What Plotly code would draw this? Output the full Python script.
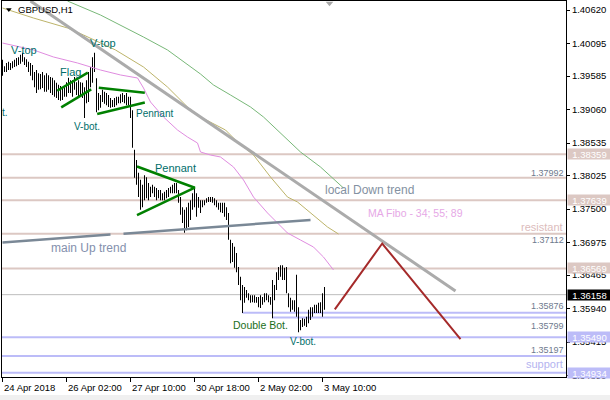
import numpy as np
import plotly.graph_objects as go

# ---------------- data ----------------
symbol_title = "GBPUSD,H1"
x_tick_bars = [0, 32, 64, 96, 128, 160]
x_tick_labels = ["24 Apr 2018", "26 Apr 02:00", "27 Apr 10:00", "30 Apr 18:00", "2 May 02:00", "3 May 10:00"]
y_tick_labels = ["1.40620", "1.40095", "1.39585", "1.39060", "1.38535", "1.38025",
                 "1.37500", "1.36975", "1.36465", "1.35940", "1.35415", "1.34890"]

highs = [1.3984, 1.3974, 1.3979, 1.3981, 1.3979, 1.3982, 1.3984, 1.3987, 1.3988, 1.3992,
         1.3995, 1.3988, 1.3985, 1.3981, 1.3979, 1.3976, 1.3965, 1.3968, 1.3963, 1.3962,
         1.3965, 1.3960, 1.3963, 1.3960, 1.3957, 1.3956, 1.3952, 1.3948, 1.3945, 1.3943,
         1.3940, 1.3941, 1.3949, 1.3956, 1.3952, 1.3952, 1.3957, 1.3949, 1.3952, 1.3949,
         1.3948, 1.3941, 1.3952, 1.3965, 1.3973, 1.3988, 1.3995, 1.3955, 1.3932, 1.3929,
         1.3937, 1.3934, 1.3932, 1.3929, 1.3924, 1.3921, 1.3924, 1.3926, 1.3926, 1.3930,
         1.3932, 1.3929, 1.3932, 1.3926, 1.3926, 1.3905, 1.3843, 1.3827, 1.3807, 1.3796,
         1.3788, 1.3803, 1.3800, 1.3791, 1.3785, 1.3788, 1.3785, 1.3783, 1.3780, 1.3780,
         1.3775, 1.3777, 1.3780, 1.3783, 1.3785, 1.3788, 1.3791, 1.3791, 1.3780, 1.3769,
         1.3753, 1.3749, 1.3753, 1.3760, 1.3764, 1.3775, 1.3785, 1.3775, 1.3769, 1.3764,
         1.3764, 1.3764, 1.3767, 1.3769, 1.3769, 1.3769, 1.3767, 1.3764, 1.3760, 1.3760,
         1.3760, 1.3760, 1.3753, 1.3744, 1.3702, 1.3697, 1.3691, 1.3681, 1.3659, 1.3644,
         1.3631, 1.3628, 1.3623, 1.3618, 1.3615, 1.3615, 1.3615, 1.3612, 1.3612, 1.3615,
         1.3612, 1.3618, 1.3618, 1.3615, 1.3612, 1.3639, 1.3631, 1.3651, 1.3659, 1.3662,
         1.3662, 1.3658, 1.3659, 1.3618, 1.3611, 1.3607, 1.3607, 1.3647, 1.3596, 1.3576,
         1.3579, 1.3578, 1.3581, 1.3592, 1.3596, 1.3596, 1.3600, 1.3600, 1.3603, 1.3604,
         1.3618, 1.3628]

lows = [1.3959, 1.3965, 1.3965, 1.3968, 1.3968, 1.3971, 1.3973, 1.3974, 1.3976, 1.3978,
        1.3981, 1.3976, 1.3973, 1.3965, 1.3959, 1.3952, 1.3941, 1.3932, 1.3937, 1.3938,
        1.3940, 1.3934, 1.3934, 1.3937, 1.3932, 1.3929, 1.3926, 1.3924, 1.3921, 1.3920,
        1.3921, 1.3926, 1.3926, 1.3932, 1.3932, 1.3926, 1.3937, 1.3929, 1.3926, 1.3926,
        1.3924, 1.3893, 1.3916, 1.3918, 1.3941, 1.3948, 1.3965, 1.3902, 1.3905, 1.3909,
        1.3918, 1.3915, 1.3913, 1.3910, 1.3909, 1.3910, 1.3910, 1.3913, 1.3916, 1.3916,
        1.3918, 1.3916, 1.3913, 1.3913, 1.3893, 1.3846, 1.3799, 1.3788, 1.3769, 1.3749,
        1.3753, 1.3764, 1.3767, 1.3764, 1.3769, 1.3775, 1.3769, 1.3764, 1.3767, 1.3764,
        1.3764, 1.3764, 1.3767, 1.3769, 1.3775, 1.3775, 1.3775, 1.3775, 1.3760, 1.3741,
        1.3728, 1.3713, 1.3717, 1.3722, 1.3733, 1.3749, 1.3753, 1.3738, 1.3752, 1.3744,
        1.3753, 1.3756, 1.3760, 1.3761, 1.3761, 1.3760, 1.3756, 1.3753, 1.3749, 1.3745,
        1.3744, 1.3738, 1.3733, 1.3702, 1.3665, 1.3667, 1.3658, 1.3651, 1.3631, 1.3607,
        1.3587, 1.3603, 1.3611, 1.3607, 1.3603, 1.3604, 1.3603, 1.3603, 1.3596, 1.3595,
        1.3600, 1.3604, 1.3607, 1.3604, 1.3600, 1.3579, 1.3607, 1.3623, 1.3639, 1.3644,
        1.3639, 1.3639, 1.3618, 1.3596, 1.3589, 1.3592, 1.3589, 1.3581, 1.3557, 1.3560,
        1.3565, 1.3567, 1.3565, 1.3571, 1.3576, 1.3581, 1.3587, 1.3587, 1.3587, 1.3587,
        1.3581, 1.3592]

# Moving averages (MA Fibo 34 / 55 / 89), read as vertices
ma34_bars = [0, 15.5, 25.5, 37.5, 49, 59, 67.5, 70.5, 74, 80.5, 87.5, 92.5, 97.5, 99, 104,
             109, 115.5, 120.5, 125.5, 132.5, 137.5, 142.5, 149, 155.5, 160.5, 165.5]
ma34_vals = [1.40104, 1.39995, 1.39885, 1.39791, 1.39681, 1.39603, 1.39556, 1.39399, 1.39179,
             1.38944, 1.38740, 1.38630, 1.38536, 1.38395, 1.38348, 1.38317, 1.38160, 1.37956,
             1.37689, 1.37439, 1.37282, 1.37125, 1.37015, 1.36905, 1.36748, 1.36545]
ma55_bars = [0, 15.5, 32.5, 40.5, 56.5, 70.5, 82.5, 92.5, 99, 111.5, 117.5, 125.5, 134,
             142.5, 147.5, 154, 162.5, 168]
ma55_vals = [1.40653, 1.40496, 1.40340, 1.40230, 1.39995, 1.39728, 1.39414, 1.39101, 1.38944,
             1.38740, 1.38552, 1.38348, 1.38003, 1.37689, 1.37611, 1.37439, 1.37219, 1.37109]
ma89_bars = [32.5, 49, 70.5, 82.5, 99, 105.5, 114, 124, 130.5, 137.5, 149, 159, 170.5]
ma89_vals = [1.40763, 1.40543, 1.40198, 1.39995, 1.39618, 1.39446, 1.39289, 1.39101, 1.38944,
             1.38740, 1.38395, 1.38160, 1.37830]

# Trend lines
down_trend_bars = [14, 226.5]
down_trend_vals = [1.40763, 1.36215]
up_trend_bars = [0, 54, None, 60.5, 154]
up_trend_vals = [1.36976, 1.37100, None, 1.37115, 1.37329]

# Chart patterns (green)
flag_upper_bars, flag_upper_vals = [27.35, 42.65], [1.39356, 1.39639]
flag_lower_bars, flag_lower_vals = [29.35, 44.35], [1.39096, 1.39378]
pen1_upper_bars, pen1_upper_vals = [48.15, 71.15], [1.39403, 1.39325]
pen1_lower_bars, pen1_lower_vals = [47.35, 71.15], [1.38991, 1.39171]
pen2_bars = [67.25, 96.15, 67.25]
pen2_vals = [1.38168, 1.37835, 1.37407]

# Projection (red)
proj_bars = [166.15, 189.85, 229]
proj_vals = [1.35928, 1.36960, 1.35462]

# Horizontal levels
resistance_levels = [1.38359, 1.37992, 1.37639, 1.37112, 1.36569]
support_levels = [1.35876, 1.35799, 1.35490, 1.35197, 1.34934]
support_start_bars = [120, 135, -1, -1, -1]
current_price = 1.36158
boxed_resistance = ["1.38359", "1.37639", "1.36569"]
boxed_support = ["1.35490", "1.34934"]
level_texts = ["1.37992", "1.37112", "1.35876", "1.35799", "1.35197"]
level_text_vals = [1.38066, 1.37015, 1.35980, 1.35674, 1.35290]

# ---------------- figure ----------------
FONT = "Liberation Sans, Arial, sans-serif"
RES_C = "#dcc8c3"
SUP_C = "#bcbcf8"
TEAL = "#006e6a"

idx = np.arange(len(highs))
hi = np.array(highs)
lo = np.array(lows)

fig = go.Figure()

fig.add_trace(go.Bar(x=idx, y=hi - lo, base=lo, width=0.5,
                     marker=dict(color="black", line=dict(width=0)), hoverinfo="skip"))

def line(xs, ys, color, width):
    fig.add_trace(go.Scatter(x=xs, y=ys, mode="lines", line=dict(color=color, width=width),
                             hoverinfo="skip", connectgaps=False))

line(ma34_bars, ma34_vals, "#e08ce0", 1)
line(ma55_bars, ma55_vals, "#bdb46a", 1)
line(ma89_bars, ma89_vals, "#78b878", 1)
line(down_trend_bars, down_trend_vals, "#ababab", 3)
line(up_trend_bars, up_trend_vals, "#7a8896", 2.5)
for xs, ys in [(flag_upper_bars, flag_upper_vals), (flag_lower_bars, flag_lower_vals),
               (pen1_upper_bars, pen1_upper_vals), (pen1_lower_bars, pen1_lower_vals),
               (pen2_bars, pen2_vals)]:
    line(xs, ys, "#008000", 2.5)
line(proj_bars, proj_vals, "#a52a2a", 2)

shapes = []
for lv in resistance_levels:
    shapes.append(dict(type="line", xref="paper", x0=0, x1=1, yref="y", y0=lv, y1=lv,
                       line=dict(color=RES_C, width=2), layer="below"))
for lv, sb in zip(support_levels, support_start_bars):
    if sb < 0:
        shapes.append(dict(type="line", xref="paper", x0=0, x1=1, yref="y", y0=lv, y1=lv,
                           line=dict(color=SUP_C, width=2), layer="below"))
    else:
        shapes.append(dict(type="line", xref="x", x0=sb, x1=281.75, yref="y", y0=lv, y1=lv,
                           line=dict(color=SUP_C, width=2), layer="below"))
shapes.append(dict(type="line", xref="paper", x0=0, x1=1, yref="y", y0=current_price, y1=current_price,
                   line=dict(color="#bdbdbd", width=1), layer="below"))
# small triangles (title marker and chart shift marker)
shapes.append(dict(type="path", xref="paper", yref="paper",
                   path="M 0.0071 0.981 L 0.0172 0.981 L 0.0121 0.971 Z",
                   fillcolor="black", line=dict(width=0)))
shapes.append(dict(type="path", xref="x", yref="paper",
                   path="M 161.6 0.998 L 165.4 0.998 L 163.5 0.986 Z",
                   fillcolor="#a8a8a8", line=dict(width=0)))
# bottom window strip
shapes.append(dict(type="rect", xref="paper", yref="paper", x0=-0.01, x1=1.1, y0=-0.07, y1=-0.048,
                   fillcolor="#f0f0f0", line=dict(width=0)))

ann = []
def txt(x, y, s, color, size, xanchor="center", xref="x", xshift=0):
    ann.append(dict(x=x, y=y, xref=xref, yref="y", text=s, showarrow=False, xanchor=xanchor,
                    yanchor="middle", xshift=xshift, font=dict(family=FONT, size=size, color=color)))

txt(10.5, 1.40002, "V-top", TEAL, 11)
txt(50, 1.40097, "V-top", TEAL, 11)
txt(34, 1.39650, "Flag", TEAL, 11)
txt(65.5, 1.38999, "Pennant", TEAL, 10, "left")
txt(42.25, 1.38795, "V-bot.", TEAL, 10)
txt(-0.25, 1.39007, "t.", TEAL, 10, "left", xshift=-2)
txt(75, 1.38152, "Pennant", TEAL, 11, "left")
txt(129, 1.35682, "Double Bot.", "#1a6e1a", 10.5)
txt(150, 1.35416, "V-bot.", TEAL, 10)
txt(160, 1.37799, "local Down trend", "#8391a2", 12, "left")
txt(181.5, 1.37431, "MA Fibo - 34; 55; 89", "#e6a8e6", 10.5, "left")
txt(23, 1.36889, "main Up trend", "#8490ad", 12, "left")
txt(1, 1.37219, "resistant", "#dcbcbc", 11, "right", xref="paper", xshift=-1)
txt(1, 1.35078, "support", "#b4b4f0", 11, "right", xref="paper", xshift=-1)
for s, v in zip(level_texts, level_text_vals):
    txt(1, v, s, "#6e7a8e", 9, "right", xref="paper", xshift=0)

ann.append(dict(x=0.0, y=1, xref="paper", yref="paper", text=symbol_title, showarrow=False,
                xanchor="left", yanchor="top", xshift=14, yshift=-1,
                font=dict(family=FONT, size=9.5, color="black")))

def box(label, bg):
    ann.append(dict(x=1, y=float(label), xref="paper", yref="y", text=label, showarrow=False,
                    xanchor="left", yanchor="middle", xshift=1, width=43, height=10,
                    align="center", bgcolor=bg, borderpad=0,
                    font=dict(family=FONT, size=9.5, color="white")))

for s in boxed_resistance:
    box(s, RES_C)
box(f"{current_price:.5f}", "black")
for s in boxed_support:
    box(s, SUP_C)

for b, s in zip(x_tick_bars, x_tick_labels):
    ann.append(dict(x=b, y=0, xref="x", yref="paper", text=s, showarrow=False,
                    xanchor="left", yanchor="top", xshift=-1, yshift=-3,
                    font=dict(family=FONT, size=9.5, color="black")))

fig.update_layout(
    width=610, height=400,
    margin=dict(l=2, r=44, t=1, b=23),
    paper_bgcolor="white", plot_bgcolor="white",
    showlegend=False, barmode="overlay",
    shapes=shapes, annotations=ann,
    xaxis=dict(range=[-0.25, 281.75], showgrid=False, zeroline=False,
               showline=True, linecolor="black", linewidth=1, mirror=True,
               tickmode="array", tickvals=x_tick_bars, ticks="outside", ticklen=4,
               tickcolor="black", showticklabels=False, fixedrange=True),
    yaxis=dict(range=[1.34867, 1.40763], side="right", showgrid=False, zeroline=False,
               showline=True, linecolor="black", linewidth=1, mirror=True,
               tickmode="array", tickvals=[float(t) for t in y_tick_labels], ticktext=y_tick_labels,
               ticks="outside", ticklen=3, tickcolor="black",
               tickfont=dict(family=FONT, size=9.5, color="black"), fixedrange=True),
)

fig.write_html("out.html", config={"displayModeBar": False},
               post_script="document.body.style.margin='0';document.body.style.overflow='hidden';")
